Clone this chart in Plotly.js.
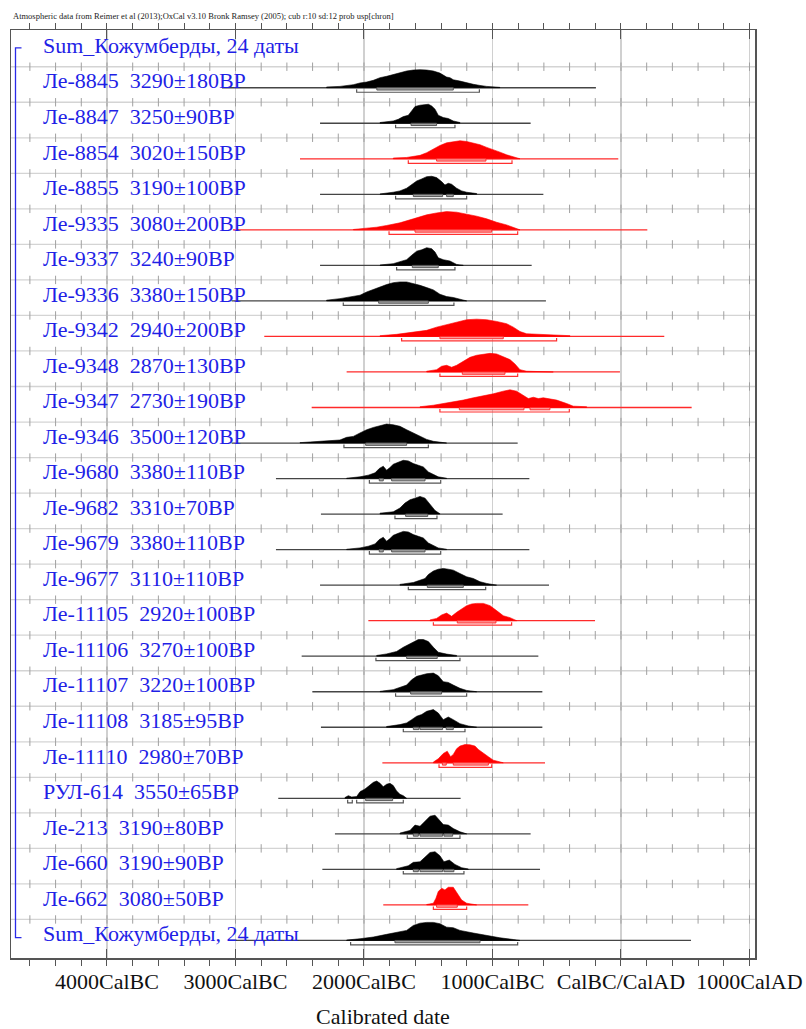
<!DOCTYPE html>
<html><head><meta charset="utf-8">
<script src="https://cdn.plot.ly/plotly-3.0.1.min.js"></script>
<style>html,body{margin:0;padding:0;background:#fff}#chart{width:806px;height:1029px}</style>
</head><body><div id="chart"></div>
<script>
// ---------- DATA ----------
const titleText = 'Atmospheric data from Reimer et al (2013);OxCal v3.10 Bronk Ramsey (2005); cub r:10 sd:12 prob usp[chron]';
const axisTitle = 'Calibrated date';
const tickYears = [-4000, -3000, -2000, -1000, 0, 1000];
const tickLabels = ['4000CalBC', '3000CalBC', '2000CalBC', '1000CalBC', 'CalBC/CalAD', '1000CalAD'];

const labels = [
  'Sum_Кожумберды, 24 даты',
  'Ле-8845\u00a0 3290±180BP', 'Ле-8847\u00a0 3250±90BP', 'Ле-8854\u00a0 3020±150BP', 'Ле-8855\u00a0 3190±100BP',
  'Ле-9335\u00a0 3080±200BP', 'Ле-9337\u00a0 3240±90BP', 'Ле-9336\u00a0 3380±150BP', 'Ле-9342\u00a0 2940±200BP',
  'Ле-9348\u00a0 2870±130BP', 'Ле-9347\u00a0 2730±190BP', 'Ле-9346\u00a0 3500±120BP', 'Ле-9680\u00a0 3380±110BP',
  'Ле-9682\u00a0 3310±70BP', 'Ле-9679\u00a0 3380±110BP', 'Ле-9677\u00a0 3110±110BP', 'Ле-11105\u00a0 2920±100BP',
  'Ле-11106\u00a0 3270±100BP', 'Ле-11107\u00a0 3220±100BP', 'Ле-11108\u00a0 3185±95BP', 'Ле-11110\u00a0 2980±70BP',
  'РУЛ-614\u00a0 3550±65BP', 'Ле-213\u00a0 3190±80BP', 'Ле-660\u00a0 3190±90BP', 'Ле-662\u00a0 3080±50BP',
  'Sum_Кожумберды, 24 даты'
];
// 'k' = black (in agreement), 'r' = red (outliers)
const tone = ['', 'k','k','r','k','r','k','k','r','r','r','k','k','k','k','k','r','k','k','k','r','k','k','k','r','k'];
const lineStart = [null, -3105, -2342, -2498, -2342, -3020, -2342, -3030, -2776, -2135, -2407, -3030, -2685, -2335, -2685, -2342, -1966, -2485, -2402, -2335, -1857, -2667, -2226, -2324, -1850, -3050];
const lineEnd   = [null, -195, -703, -21, -604, 205, -695, -584, 337, -8, 550, -804, -713, -921, -713, -560, -202, -643, -612, -612, -591, -1248, -703, -630, -721, 545];

// probability distributions (calendar year, relative probability)
const le8845_t = [-2291,-2187,-2083,-2031,-1979,-1927,-1875,-1824,-1772,-1720,-1668,-1616,-1564,-1512,-1460,-1409,-1357,-1331,-1305,-1253,-1201,-1149,-1097,-1045,-942];
const le8845_p = [0.04,0.07,0.16,0.25,0.30,0.39,0.53,0.60,0.70,0.81,0.88,0.93,0.95,0.93,0.88,0.77,0.56,0.53,0.42,0.35,0.25,0.18,0.12,0.07,0.02];
const le8847_t = [-1875,-1772,-1733,-1694,-1655,-1629,-1603,-1564,-1525,-1499,-1473,-1447,-1422,-1383,-1344,-1305,-1253];
const le8847_p = [0.04,0.12,0.21,0.35,0.42,0.65,0.88,0.95,1.0,1.0,0.91,0.74,0.42,0.30,0.25,0.12,0.04];
const le8854_t = [-1772,-1668,-1564,-1512,-1460,-1409,-1357,-1305,-1253,-1201,-1149,-1097,-1045,-994,-942,-890,-838,-786];
const le8854_p = [0.04,0.07,0.18,0.32,0.53,0.70,0.84,0.91,0.95,0.91,0.84,0.74,0.60,0.49,0.35,0.21,0.09,0.01];
const le8855_t = [-1875,-1772,-1720,-1668,-1629,-1590,-1551,-1512,-1473,-1435,-1396,-1370,-1344,-1318,-1279,-1240,-1201,-1123];
const le8855_p = [0.02,0.11,0.18,0.32,0.49,0.70,0.81,0.93,0.95,0.88,0.67,0.49,0.58,0.53,0.32,0.18,0.11,0.04];
const le9335_t = [-2083,-1979,-1901,-1824,-1720,-1616,-1512,-1435,-1357,-1279,-1201,-1123,-1045,-968,-890,-838,-786];
const le9335_p = [0.02,0.09,0.14,0.23,0.37,0.58,0.79,0.89,0.96,0.93,0.84,0.72,0.58,0.40,0.26,0.14,0.02];
const le9337_t = [-1875,-1772,-1720,-1668,-1629,-1590,-1551,-1512,-1473,-1447,-1422,-1383,-1331,-1279,-1227];
const le9337_p = [0.02,0.09,0.18,0.30,0.53,0.75,0.82,0.93,0.88,0.70,0.40,0.30,0.23,0.05,0.0];
const le9336_t = [-2291,-2187,-2135,-2083,-2031,-1979,-1927,-1875,-1824,-1772,-1720,-1668,-1616,-1564,-1512,-1460,-1409,-1357,-1305,-1201];
const le9336_p = [0.04,0.12,0.18,0.21,0.30,0.47,0.61,0.75,0.86,0.96,1.0,1.0,0.93,0.82,0.70,0.58,0.35,0.23,0.18,0.04];
const le9342_t = [-1875,-1746,-1616,-1512,-1435,-1357,-1279,-1201,-1123,-1045,-968,-890,-838,-786,-734,-630,-527,-397];
const le9342_p = [0.04,0.11,0.21,0.32,0.49,0.61,0.74,0.88,0.91,0.88,0.79,0.67,0.49,0.26,0.14,0.12,0.09,0.04];
const le9348_t = [-1512,-1435,-1396,-1357,-1318,-1279,-1227,-1175,-1123,-1071,-1019,-968,-916,-864,-825,-786,-734,-527];
const le9348_p = [0.04,0.12,0.30,0.35,0.25,0.35,0.56,0.77,0.88,0.95,0.98,0.95,0.82,0.65,0.42,0.12,0.04,0.02];
const le9347_t = [-1564,-1460,-1383,-1331,-1279,-1227,-1149,-1071,-994,-916,-864,-812,-760,-721,-682,-643,-604,-553,-501,-423,-371,-267];
const le9347_p = [0.04,0.12,0.21,0.26,0.30,0.39,0.51,0.61,0.72,0.86,0.93,0.86,0.61,0.47,0.54,0.47,0.51,0.44,0.39,0.21,0.07,0.04];
const le9346_t = [-2498,-2342,-2265,-2187,-2135,-2083,-2031,-1979,-1927,-1875,-1824,-1772,-1720,-1668,-1616,-1564,-1512,-1460,-1357];
const le9346_p = [0.02,0.09,0.12,0.16,0.30,0.35,0.53,0.70,0.82,0.93,1.0,0.96,0.88,0.70,0.53,0.35,0.19,0.09,0.02];
const le9680_t = [-2135,-2031,-1966,-1914,-1881,-1850,-1824,-1798,-1772,-1733,-1694,-1655,-1616,-1577,-1538,-1499,-1460,-1422,-1357];
const le9680_p = [0.02,0.09,0.18,0.30,0.53,0.65,0.44,0.58,0.75,0.86,0.96,0.93,0.79,0.70,0.61,0.35,0.23,0.09,0.02];
const le9682_t = [-1875,-1772,-1720,-1681,-1642,-1603,-1564,-1525,-1486,-1447,-1409];
const le9682_p = [0.05,0.12,0.32,0.58,0.75,0.84,0.93,0.84,0.49,0.19,0.02];
const le9679_t = [-2135,-2031,-1966,-1914,-1881,-1850,-1824,-1798,-1772,-1733,-1694,-1655,-1616,-1577,-1538,-1499,-1460,-1422,-1357];
const le9679_p = [0.02,0.09,0.18,0.30,0.53,0.65,0.44,0.58,0.75,0.86,0.96,0.93,0.79,0.70,0.61,0.35,0.23,0.09,0.02];
const le9677_t = [-1720,-1616,-1564,-1525,-1499,-1460,-1422,-1383,-1344,-1305,-1253,-1201,-1149,-1097,-1045,-968];
const le9677_p = [0.04,0.14,0.26,0.35,0.56,0.74,0.84,0.88,0.84,0.79,0.61,0.44,0.35,0.18,0.09,0.02];
const le11105_t = [-1486,-1435,-1396,-1357,-1318,-1279,-1240,-1201,-1162,-1123,-1071,-1019,-968,-916,-864,-812];
const le11105_p = [0.04,0.12,0.30,0.40,0.23,0.44,0.61,0.79,0.88,0.91,0.91,0.79,0.53,0.26,0.16,0.04];
const le11106_t = [-1901,-1824,-1746,-1694,-1655,-1616,-1577,-1538,-1499,-1460,-1422,-1357,-1279];
const le11106_p = [0.04,0.12,0.25,0.47,0.60,0.77,0.88,0.88,0.77,0.47,0.21,0.11,0.04];
const le11107_t = [-1875,-1772,-1720,-1668,-1629,-1590,-1551,-1512,-1460,-1422,-1383,-1344,-1305,-1253,-1201,-1123];
const le11107_p = [0.02,0.11,0.23,0.35,0.63,0.81,0.88,0.95,0.98,0.84,0.53,0.49,0.35,0.18,0.07,0.02];
const le11108_t = [-1824,-1720,-1668,-1629,-1590,-1551,-1512,-1460,-1422,-1383,-1344,-1305,-1253,-1188,-1123];
const le11108_p = [0.04,0.14,0.23,0.40,0.58,0.67,0.84,0.93,0.75,0.40,0.54,0.40,0.19,0.07,0.02];
const le11110_t = [-1460,-1422,-1383,-1352,-1326,-1305,-1279,-1253,-1214,-1175,-1136,-1110,-1071,-1032,-994,-916];
const le11110_p = [0.04,0.21,0.49,0.61,0.32,0.44,0.74,0.88,0.96,0.95,0.88,0.70,0.49,0.32,0.14,0.04];
const rul614_t = [-2148,-2122,-2096,-2057,-2031,-1992,-1953,-1927,-1901,-1875,-1850,-1824,-1798,-1772,-1746,-1720,-1694,-1668];
const rul614_p = [0.04,0.14,0.07,0.09,0.35,0.49,0.70,0.84,0.91,0.79,0.61,0.74,0.79,0.67,0.39,0.21,0.14,0.02];
const le213_t = [-1720,-1642,-1603,-1564,-1525,-1486,-1447,-1409,-1383,-1344,-1305,-1253,-1201];
const le213_p = [0.04,0.18,0.46,0.40,0.67,0.93,0.98,0.70,0.49,0.46,0.28,0.11,0.02];
const le660_t = [-1746,-1655,-1616,-1564,-1525,-1486,-1447,-1409,-1378,-1336,-1292,-1240,-1188];
const le660_p = [0.04,0.19,0.37,0.40,0.67,0.89,0.93,0.72,0.40,0.49,0.26,0.09,0.02];
const le662_t = [-1512,-1460,-1440,-1422,-1396,-1370,-1344,-1305,-1274,-1240,-1201,-1123];
const le662_p = [0.02,0.09,0.35,0.70,0.88,0.79,0.93,0.93,0.61,0.26,0.09,0.02];
const sum_t = [-2135,-2031,-1927,-1824,-1720,-1668,-1616,-1564,-1512,-1460,-1409,-1357,-1305,-1253,-1149,-1045,-942,-838,-786];
const sum_p = [0.02,0.09,0.18,0.32,0.44,0.53,0.79,0.91,0.95,0.95,0.88,0.70,0.67,0.53,0.39,0.25,0.14,0.05,0.02];

// 68.2% and 95.4% ranges per row
const range68 = [null,
  [[-1900,-1305]], [[-1634,-1435]], [[-1435,-1051]], [[-1616,-1388],[-1357,-1305]],
  [[-1603,-1006]], [[-1624,-1422]], [[-1886,-1499]], [[-1409,-916]],
  [[-1235,-903]], [[-1258,-755],[-708,-553]], [[-1987,-1668]], [[-1881,-1850],[-1785,-1525]],
  [[-1676,-1504]], [[-1881,-1850],[-1785,-1525]], [[-1507,-1227]], [[-1274,-973]],
  [[-1668,-1430]], [[-1637,-1396]], [[-1616,-1572],[-1564,-1388],[-1360,-1305]], [[-1390,-1360],[-1305,-1032]],
  [[-1987,-1777]], [[-1616,-1577],[-1564,-1388],[-1378,-1310]], [[-1616,-1577],[-1564,-1388],[-1378,-1300]], [[-1435,-1274]],
  [[-1759,-1097]]
];
const range95 = [null,
  [[-2057,-1102]], [[-1754,-1292]], [[-1655,-848]], [[-1754,-1201]],
  [[-1805,-804]], [[-1746,-1292]], [[-2161,-1300]], [[-1707,-501]],
  [[-1409,-804]], [[-1409,-402]], [[-2156,-1499]], [[-1958,-1403]],
  [[-1759,-1432]], [[-1958,-1403]], [[-1655,-1053]], [[-1460,-851]],
  [[-1907,-1253]], [[-1754,-1201]], [[-1694,-1214]], [[-1416,-1006]],
  [[-2127,-2091],[-2057,-1694]], [[-1663,-1253]], [[-1694,-1222]], [[-1460,-1201]],
  [[-2104,-804]]
];

const distT = [null, le8845_t, le8847_t, le8854_t, le8855_t, le9335_t, le9337_t, le9336_t, le9342_t, le9348_t, le9347_t,
  le9346_t, le9680_t, le9682_t, le9679_t, le9677_t, le11105_t, le11106_t, le11107_t, le11108_t, le11110_t,
  rul614_t, le213_t, le660_t, le662_t, sum_t];
const distP = [null, le8845_p, le8847_p, le8854_p, le8855_p, le9335_p, le9337_p, le9336_p, le9342_p, le9348_p, le9347_p,
  le9346_p, le9680_p, le9682_p, le9679_p, le9677_p, le11105_p, le11106_p, le11107_p, le11108_p, le11110_p,
  rul614_p, le213_p, le660_p, le662_p, sum_p];

// ---------- LAYOUT CONSTANTS ----------
const W = 806, H = 1029;
const M = {l: 11, r: 51, t: 30, b: 71};
const plotW = W - M.l - M.r, plotH = H - M.t - M.b;
const xMin = -4747, xMax = 1043;
const ROW_PX = 35.53;
const yTop = 0, yBottom = plotH / ROW_PX;
const BASE_OFF = 22.2 / ROW_PX;
const GRID_OFF = 1.2 / ROW_PX;
const HSCALE = 19 / ROW_PX;
const B68 = 2.3 / ROW_PX, B95 = 4.5 / ROW_PX, BCAP = 1.5 / ROW_PX;
const pxToX = px => xMin + (px - M.l) / plotW * (xMax - xMin);
const base = i => i + BASE_OFF;
const SERIF = 'Liberation Serif, Times New Roman, serif';

const COL = {
  k: {fill: '#000000', line: '#454545', box: '#a0a0a0', brk: '#555555'},
  r: {fill: '#ff0000', line: '#ff2a2a', box: '#ff9a9a', brk: '#ff3030'}
};

const traces = [];
// row gridlines with small tick marks
const gx = [], gy = [], tx = [], ty = [];
const minorYears = [];
for (let y = Math.ceil(xMin / 200) * 200; y <= xMax; y += 200) minorYears.push(y);
for (let k = 1; k < labels.length; k++) {
  gx.push(xMin, xMax, null); gy.push(k + GRID_OFF, k + GRID_OFF, null);
  minorYears.forEach(y => { tx.push(y); ty.push(k + GRID_OFF); });
}
traces.push({x: gx, y: gy, mode: 'lines', line: {color: '#d4d4d4', width: 1.3}, hoverinfo: 'skip'});
traces.push({x: tx, y: ty, mode: 'markers', marker: {symbol: 'line-ns-open', size: 6, color: '#a0a0a0', line: {color: '#a0a0a0', width: 1}}, hoverinfo: 'skip'});

for (let i = 1; i < labels.length; i++) {
  const c = COL[tone[i]];
  const b = base(i);
  traces.push({x: [lineStart[i], lineEnd[i]], y: [b, b], mode: 'lines', line: {color: c.line, width: 1.3}, hoverinfo: 'skip'});
  const t = distT[i], p = distP[i];
  const xs = [t[0]].concat(t, [t[t.length - 1]], t.slice().reverse());
  const ys = [b].concat(p.map(v => b - v * HSCALE), [b], t.map(() => b));
  traces.push({x: xs, y: ys, mode: 'lines', fill: 'toself', fillcolor: c.fill, line: {color: c.fill, width: 0.6}, hoverinfo: 'skip'});
  range68[i].forEach(([a, e]) => {
    traces.push({x: [a, e, e, a, a], y: [b, b, b + B68, b + B68, b], mode: 'lines', fill: 'toself', fillcolor: c.box, line: {color: c.brk, width: 1}, hoverinfo: 'skip'});
  });
  range95[i].forEach(([a, e]) => {
    traces.push({x: [a, a, e, e], y: [b + BCAP, b + B95, b + B95, b + BCAP], mode: 'lines', line: {color: c.brk, width: 1.2}, hoverinfo: 'skip'});
  });
}

// blue group bracket
const bx0 = pxToX(15.5), bx1 = pxToX(21.5);
traces.push({x: [bx1, bx0, bx0, bx1], y: [base(0) - 0.12, base(0) - 0.12, base(labels.length - 1) - 0.08, base(labels.length - 1) - 0.08],
  mode: 'lines', line: {color: '#2a2ae8', width: 1.3}, hoverinfo: 'skip'});

const annotations = labels.map((s, i) => ({
  x: pxToX(41), y: base(i) - 0.19, xref: 'x', yref: 'y', text: s, showarrow: false,
  xanchor: 'left', yanchor: 'middle', font: {family: SERIF, size: 22, color: '#1f1fe6'}
}));
annotations.push({x: 0, y: 1, xref: 'paper', yref: 'paper', xanchor: 'left', yanchor: 'middle', xshift: 0, yshift: 14,
  text: titleText, showarrow: false, font: {family: SERIF, size: 8.5, color: '#222'}});

const layout = {
  width: W, height: H, margin: M, paper_bgcolor: '#fff', plot_bgcolor: '#fff', showlegend: false,
  xaxis: {
    range: [xMin, xMax], showline: true, linecolor: '#555', linewidth: 1.5, mirror: 'ticks',
    ticks: 'inside', ticklen: 9, tickwidth: 1, tickcolor: '#555',
    tickmode: 'array', tickvals: tickYears, ticktext: tickLabels,
    showgrid: true, gridcolor: '#d0d0d0', gridwidth: 1.5, zeroline: false,
    minor: {tickmode: 'array', tickvals: minorYears, ticklen: 6, tickwidth: 1, tickcolor: '#555', showgrid: false},
    tickfont: {family: SERIF, size: 22, color: '#111'},
    ticklabelstandoff: 3,
    title: {text: axisTitle, font: {family: SERIF, size: 22, color: '#111'}, standoff: 27},
    fixedrange: true
  },
  yaxis: {range: [yBottom, yTop], showline: true, mirror: true, linecolor: '#555', linewidth: 1.5,
    ticks: '', showticklabels: false, showgrid: false, zeroline: false, fixedrange: true},
  annotations: annotations
};

Plotly.newPlot('chart', traces, layout, {staticPlot: true, displayModeBar: false});
</script></body></html>
